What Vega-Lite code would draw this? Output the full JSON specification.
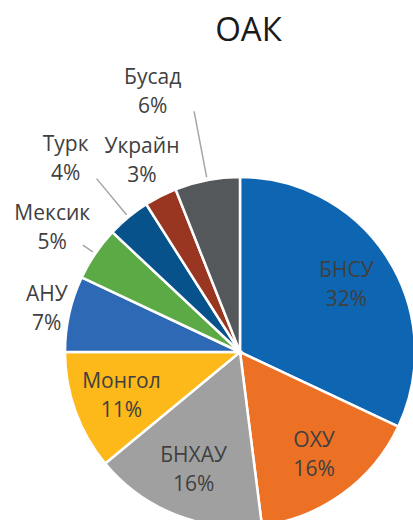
{
  "$schema": "https://vega.github.io/schema/vega-lite/v6.json",
  "width": 413,
  "height": 458,
  "autosize": "none",
  "padding": {"left": 0, "top": 62, "right": 0, "bottom": 0},
  "background": "white",
  "config": {"view": {"stroke": null}},
  "title": {"text": "ОАК", "font": "Open Sans", "fontSize": 33, "fontWeight": "normal", "color": "#1a1a1a", "anchor": "middle", "frame": "group", "dx": 42, "baseline": "alphabetic", "offset": -12},
  "data": {"values": [
    {"idx": 1, "country": "БНСУ", "share": 32},
    {"idx": 2, "country": "ОХУ", "share": 16},
    {"idx": 3, "country": "БНХАУ", "share": 16},
    {"idx": 4, "country": "Монгол", "share": 11},
    {"idx": 5, "country": "АНУ", "share": 7},
    {"idx": 6, "country": "Мексик", "share": 5},
    {"idx": 7, "country": "Турк", "share": 4},
    {"idx": 8, "country": "Украйн", "share": 3},
    {"idx": 9, "country": "Бусад", "share": 6}
  ]},
  "transform": [
    {"stack": "share", "groupby": [], "sort": [{"field": "idx", "order": "ascending"}], "as": ["t0", "t1"]},
    {"calculate": "(datum.t0 + datum.t1) / 2", "as": "tmid"},
    {"calculate": "datum.country + '\\n' + datum.share + '%'", "as": "label"}
  ],
  "layer": [
    {
      "mark": {"type": "arc", "x": 240, "y": 290, "outerRadius": 175, "stroke": "white", "strokeWidth": 2.5},
      "encoding": {
        "theta": {"field": "t0", "type": "quantitative", "scale": {"domain": [0, 100]}},
        "theta2": {"field": "t1"},
        "color": {"field": "country", "type": "nominal", "legend": null,
          "scale": {"domain": ["БНСУ", "ОХУ", "БНХАУ", "Монгол", "АНУ", "Мексик", "Турк", "Украйн", "Бусад"],
                    "range": ["#0E65B1", "#ED7125", "#A0A0A0", "#FDB819", "#2E69B6", "#5BAA46", "#07528A", "#983622", "#54585A"]}}
      }
    },
    {
      "transform": [{"filter": "datum.country === 'Бусад'"}],
      "mark": {"type": "arc", "x": 240, "y": 290, "radius": 245, "radius2": 178, "padAngle": 3.14, "fill": null, "fillOpacity": 0, "stroke": "#A6A6A6", "strokeWidth": 1.5},
      "encoding": {"theta": {"field": "t0", "type": "quantitative"}, "theta2": {"field": "t1"}}
    },
    {
      "transform": [{"filter": "datum.country === 'Турк'"}],
      "mark": {"type": "arc", "x": 240, "y": 290, "radius": 225, "radius2": 178, "padAngle": 3.14, "fill": null, "fillOpacity": 0, "stroke": "#A6A6A6", "strokeWidth": 1.5},
      "encoding": {"theta": {"field": "t0", "type": "quantitative"}, "theta2": {"field": "t1"}}
    },
    {
      "transform": [{"filter": "datum.country === 'Мексик'"}],
      "mark": {"type": "arc", "x": 240, "y": 290, "radius": 190, "radius2": 178, "padAngle": 3.14, "fill": null, "fillOpacity": 0, "stroke": "#A6A6A6", "strokeWidth": 1.5},
      "encoding": {"theta": {"field": "t0", "type": "quantitative"}, "theta2": {"field": "t1"}}
    },
    {
      "transform": [{"filter": "datum.idx <= 4"}],
      "mark": {"type": "text", "x": 240, "y": 290, "radius": 126, "dy": -13, "font": "Open Sans", "fontSize": 21, "lineHeight": 29, "lineBreak": "\n", "color": "#404040", "align": "center", "baseline": "middle"},
      "encoding": {"theta": {"field": "tmid", "type": "quantitative"}, "text": {"field": "label"}}
    },
    {
      "transform": [{"filter": "datum.country === 'АНУ'"}],
      "mark": {"type": "text", "x": 240, "y": 290, "radius": 198, "dy": -14, "font": "Open Sans", "fontSize": 21, "lineHeight": 29, "lineBreak": "\n", "color": "#404040", "align": "center", "baseline": "middle"},
      "encoding": {"theta": {"field": "tmid", "type": "quantitative"}, "text": {"field": "label"}}
    },
    {
      "transform": [{"filter": "datum.country === 'Мексик'"}],
      "mark": {"type": "text", "x": 240, "y": 290, "radius": 227, "dy": -10, "font": "Open Sans", "fontSize": 21, "lineHeight": 29, "lineBreak": "\n", "color": "#404040", "align": "center", "baseline": "middle"},
      "encoding": {"theta": {"field": "tmid", "type": "quantitative"}, "text": {"field": "label"}}
    },
    {
      "transform": [{"filter": "datum.country === 'Турк'"}],
      "mark": {"type": "text", "x": 240, "y": 290, "radius": 261, "dx": -8, "dy": -6, "font": "Open Sans", "fontSize": 21, "lineHeight": 29, "lineBreak": "\n", "color": "#404040", "align": "center", "baseline": "middle"},
      "encoding": {"theta": {"field": "tmid", "type": "quantitative"}, "text": {"field": "label"}}
    },
    {
      "transform": [{"filter": "datum.country === 'Украйн'"}],
      "mark": {"type": "text", "x": 240, "y": 290, "radius": 216, "dy": -13, "font": "Open Sans", "fontSize": 21, "lineHeight": 29, "lineBreak": "\n", "color": "#404040", "align": "center", "baseline": "middle"},
      "encoding": {"theta": {"field": "tmid", "type": "quantitative"}, "text": {"field": "label"}}
    },
    {
      "transform": [{"filter": "datum.country === 'Бусад'"}],
      "mark": {"type": "text", "x": 240, "y": 290, "radius": 274, "dx": -36, "dy": -5, "font": "Open Sans", "fontSize": 21, "lineHeight": 29, "lineBreak": "\n", "color": "#404040", "align": "center", "baseline": "middle"},
      "encoding": {"theta": {"field": "tmid", "type": "quantitative"}, "text": {"field": "label"}}
    }
  ]
}
